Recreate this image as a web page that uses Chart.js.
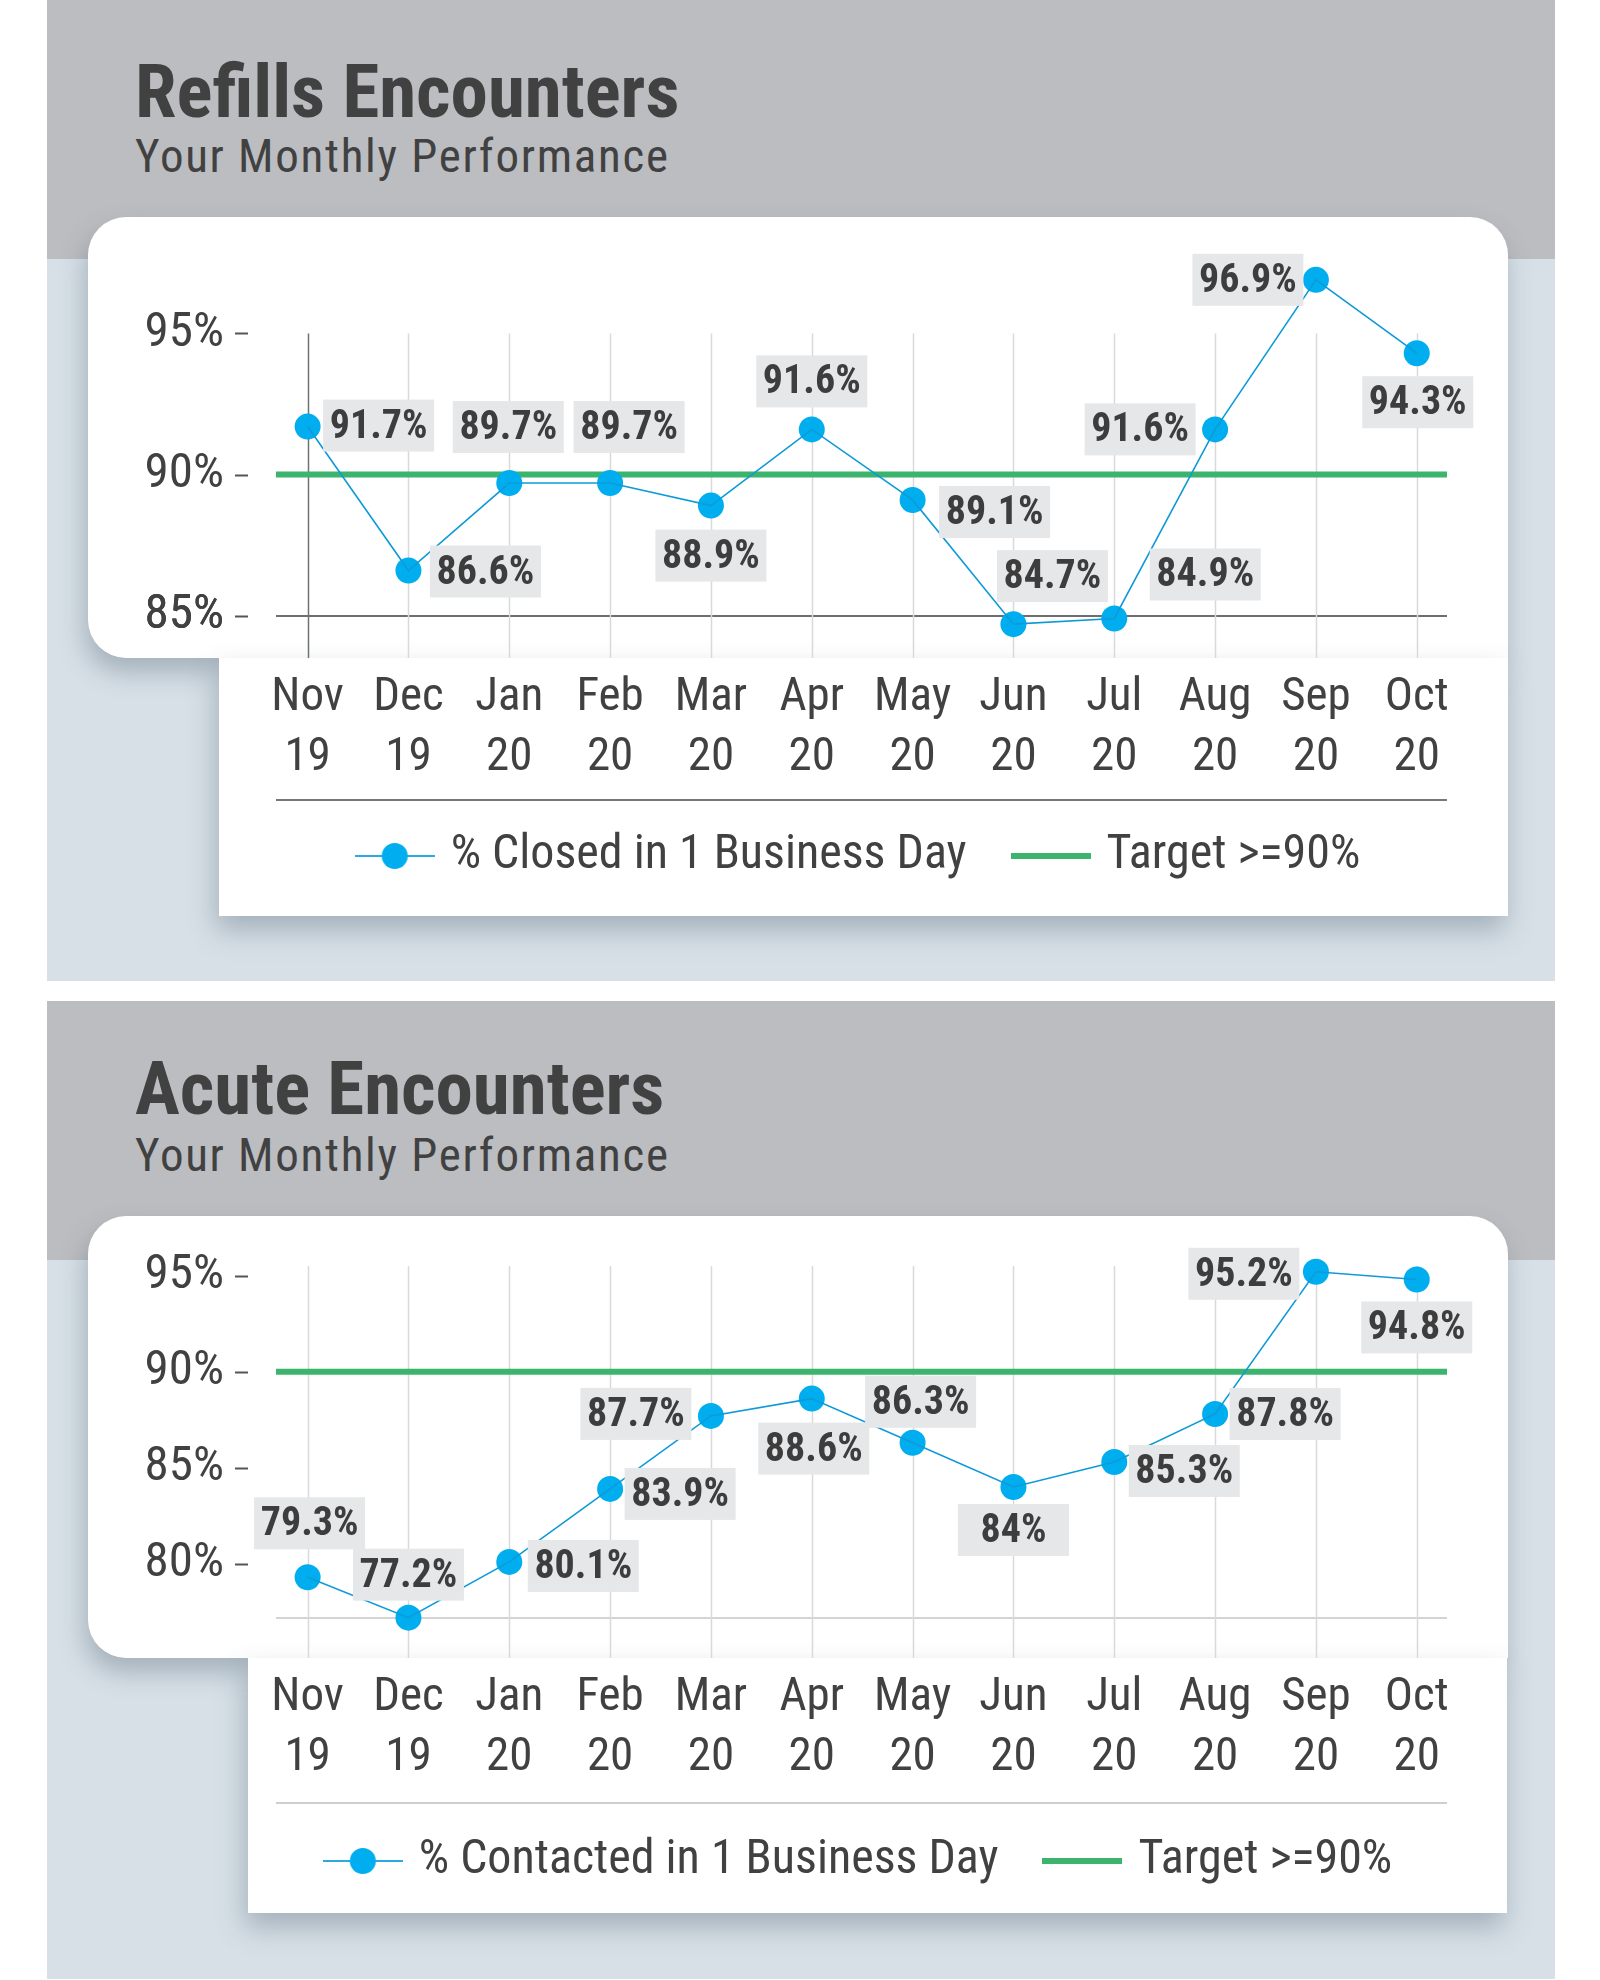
<!DOCTYPE html>
<html>
<head>
<meta charset="utf-8">
<title>Encounters</title>
<script src="https://cdn.jsdelivr.net/npm/chart.js@4.4.1/dist/chart.umd.min.js"></script>
<style>
  body {
    margin: 0;
    width: 1600px;
    height: 1980px;
    position: relative;
    overflow: hidden;
    background: #fff;
    color: #414142;
    font-family: "Roboto Condensed", "Archivo Narrow", sans-serif;
  }
  .panel { position: absolute; left: 47px; width: 1508px; background: #d7e0e7; }
  .panel .head { position: absolute; left: 0; top: 0; width: 100%; height: 259px; background: #bcbdc0; }
  .title { position: absolute; left: 88px; font-weight: bold; font-size: 75px; line-height: 76px; white-space: nowrap; }
  .sub { position: absolute; left: 88px; font-size: 47px; line-height: 47px; letter-spacing: 1.7px; white-space: nowrap; }
  .card { position: absolute; background: #fff; box-shadow: -3px 14px 26px rgba(70, 88, 105, 0.35); }
  canvas { position: absolute; left: 0; }
</style>
</head>
<body>

<div class="panel" style="top:0;height:981px">
  <div class="head"></div>
  <div class="title" style="top:53px">Refills Encounters</div>
  <div class="sub" style="top:132px">Your Monthly Performance</div>
</div>
<div class="card" style="left:88px;top:217px;width:1420px;height:441px;border-radius:38px 38px 0 38px"></div>
<div class="card" style="left:219px;top:658px;width:1289px;height:258px"></div>
<canvas id="refills" width="1600" height="674" style="top:217px"></canvas>

<div class="panel" style="top:1001px;height:978px">
  <div class="head"></div>
  <div class="title" style="top:49px">Acute Encounters</div>
  <div class="sub" style="top:130px">Your Monthly Performance</div>
</div>
<div class="card" style="left:88px;top:1216px;width:1420px;height:442px;border-radius:38px 38px 0 38px"></div>
<div class="card" style="left:248px;top:1658px;width:1259px;height:255px"></div>
<canvas id="acute" width="1600" height="679" style="top:1216px"></canvas>

<script>
const months = ['Nov', 'Dec', 'Jan', 'Feb', 'Mar', 'Apr', 'May', 'Jun', 'Jul', 'Aug', 'Sep', 'Oct'];
const years = ['19', '19', '20', '20', '20', '20', '20', '20', '20', '20', '20', '20'];

const refillsClosed = [91.7, 86.6, 89.7, 89.7, 88.9, 91.6, 89.1, 84.7, 84.9, 91.6, 96.9, 94.3];
const acuteContacted = [79.3, 77.2, 80.1, 83.9, 87.7, 88.6, 86.3, 84, 85.3, 87.8, 95.2, 94.8];
const target = 90;

const refillsTicks = [85, 90, 95];
const acuteTicks = [80, 85, 90, 95];

// where each value box sits relative to its point (px), tuned by eye
const refillsLabelPos = [[71, -1], [77, 1], [-1, -56], [19, -56], [0, 50], [0, -48], [82, 12], [39, -48], [91, -44], [-75, 0], [-68, 0], [1, 49]];
const acuteLabelPos = [[2, -54], [0, -43], [74, 4], [70, 5], [-75, -2], [2, 50], [8, -41], [0, 43], [70, 9], [70, 0], [-72, 2], [0, 48]];

const FONT = '"Roboto Condensed", "Archivo Narrow", sans-serif';
const TEXT = '#414142';
const BLUE = '#00aeef';
const LINE_BLUE = '#0e9ad8';
const GREEN = '#3cb46e';
const X_MIN = -0.3135;
const X_MAX = 11.3;

// little legend icons
function blueIcon() {
  const c = document.createElement('canvas');
  c.width = 80; c.height = 30;
  const g = c.getContext('2d');
  g.strokeStyle = '#29abe2'; g.lineWidth = 2;
  g.beginPath(); g.moveTo(0, 15); g.lineTo(80, 15); g.stroke();
  g.fillStyle = BLUE;
  g.beginPath(); g.arc(40, 15, 13, 0, Math.PI * 2); g.fill();
  return c;
}
function greenIcon() {
  const c = document.createElement('canvas');
  c.width = 80; c.height = 6;
  const g = c.getContext('2d');
  g.fillStyle = GREEN;
  g.fillRect(0, 0, 80, 6);
  return c;
}

const extras = {
  id: 'extras',
  beforeDatasetsDraw(chart, args, opts) {
    // month grid lines, starting at the top tick instead of the top of the area
    const ctx = chart.ctx;
    const area = chart.chartArea;
    const x = chart.scales.x;
    const top = chart.scales.y.getPixelForValue(opts.gridTop);
    ctx.save();
    ctx.lineWidth = 1.5;
    x.ticks.forEach((t, i) => {
      const px = Math.round(x.getPixelForValue(t.value)) + 0.5;
      ctx.strokeStyle = opts.darkFirst && i === 0 ? '#707173' : '#d9d9d9';
      ctx.beginPath(); ctx.moveTo(px, top); ctx.lineTo(px, area.bottom); ctx.stroke();
    });
    ctx.restore();
  },
  afterDatasetsDraw(chart, args, opts) {
    // grey value boxes next to the points
    const ctx = chart.ctx;
    const meta = chart.getDatasetMeta(1);
    const values = chart.data.datasets[1].data;
    ctx.save();
    ctx.font = 'bold 40px ' + FONT;
    ctx.textAlign = 'center';
    ctx.textBaseline = 'middle';
    meta.data.forEach((pt, i) => {
      const cx = pt.x + opts.labelPos[i][0];
      const cy = pt.y + opts.labelPos[i][1];
      ctx.fillStyle = '#e6e7e8';
      ctx.fillRect(cx - 55.5, cy - 26, 111, 52);
      ctx.fillStyle = '#3d3d3e';
      ctx.fillText(values[i].y + '%', cx, cy + 2);
    });
    ctx.restore();
  },
  afterDraw(chart, args, opts) {
    const ctx = chart.ctx;
    const area = chart.chartArea;
    const y = chart.scales.y;
    ctx.save();
    // dashes beside the y labels
    ctx.strokeStyle = '#555';
    ctx.lineWidth = 2;
    opts.yLabels.forEach(v => {
      const py = Math.round(y.getPixelForValue(v)) + 0.5;
      ctx.beginPath(); ctx.moveTo(area.left - 41, py); ctx.lineTo(area.left - 28, py); ctx.stroke();
    });
    // rule between month labels and legend
    ctx.strokeStyle = opts.ruleColor;
    const ry = area.bottom + opts.ruleOffset;
    ctx.beginPath(); ctx.moveTo(area.left, ry); ctx.lineTo(area.right, ry); ctx.stroke();
    ctx.restore();
  }
};

function makeChart(id, cfg) {
  const points = cfg.values.map((v, i) => ({ x: i, y: v }));
  return new Chart(document.getElementById(id), {
    type: 'line',
    data: {
      datasets: [
        {
          label: 'Target >=90%',
          data: [{ x: X_MIN, y: target }, { x: X_MAX, y: target }],
          borderColor: GREEN,
          borderWidth: 6,
          pointRadius: 0,
          order: 3
        },
        {
          label: cfg.seriesName,
          data: points,
          showLine: false,
          pointRadius: 13,
          pointBackgroundColor: BLUE,
          pointBorderWidth: 0,
          clip: false,
          order: 2
        },
        {
          label: 'line',
          data: points,
          borderColor: LINE_BLUE,
          borderWidth: 1.6,
          pointRadius: 0,
          clip: false,
          order: 1
        }
      ]
    },
    options: {
      responsive: false,
      animation: false,
      events: [],
      layout: { autoPadding: false, padding: { left: 136, right: 153, top: cfg.topPad, bottom: cfg.bottomPad } },
      plugins: {
        tooltip: { enabled: false },
        legend: {
          position: 'bottom',
          fullSize: false,
          labels: {
            usePointStyle: true,
            pointStyleWidth: 64,
            padding: 52,
            color: TEXT,
            font: { size: 48, family: FONT },
            generateLabels: () => [
              { text: cfg.seriesName, pointStyle: blueIcon(), fontColor: TEXT, lineWidth: 0, strokeStyle: 'rgba(0,0,0,0)', fillStyle: 'rgba(0,0,0,0)', datasetIndex: 1 },
              { text: 'Target >=90%', pointStyle: greenIcon(), fontColor: TEXT, lineWidth: 0, strokeStyle: 'rgba(0,0,0,0)', fillStyle: 'rgba(0,0,0,0)', datasetIndex: 0 }
            ]
          }
        },
        extras: {
          labelPos: cfg.labelPos,
          yLabels: cfg.yTicks,
          gridTop: cfg.gridTop,
          darkFirst: cfg.darkFirst,
          ruleColor: cfg.ruleColor,
          ruleOffset: cfg.ruleOffset
        }
      },
      scales: {
        x: {
          type: 'linear',
          min: X_MIN,
          max: X_MAX,
          afterBuildTicks: s => { s.ticks = months.map((m, i) => ({ value: i })); },
          afterFit: s => { s.height = cfg.xHeight; },
          border: { display: false },
          grid: { display: false, drawTicks: false },
          ticks: {
            autoSkip: false,
            maxRotation: 0,
            padding: 10,
            color: TEXT,
            font: { size: 47, family: FONT, lineHeight: 1.28 },
            callback: v => [months[v], years[v]]
          }
        },
        y: {
          min: cfg.yMin,
          max: cfg.yMax,
          afterBuildTicks: s => { s.ticks = [cfg.baseline].concat(cfg.yTicks).map(v => ({ value: v })); },
          // fixed width, and no extra room above the area for the top label
          afterFit: s => { s.width = 140; s.paddingTop = 0; s.paddingBottom = 0; },
          border: { display: false },
          grid: {
            drawTicks: false,
            lineWidth: 2,
            color: c => (c.tick.value === cfg.baseline ? cfg.baseColor : 'rgba(0,0,0,0)')
          },
          ticks: {
            padding: 52,
            color: TEXT,
            font: { size: 49, family: FONT },
            callback: v => (cfg.yTicks.includes(v) ? v + '%' : '')
          }
        }
      }
    },
    plugins: [extras]
  });
}

makeChart('refills', {
  values: refillsClosed,
  seriesName: '% Closed in 1 Business Day',
  yTicks: refillsTicks,
  yMin: 83.5,
  yMax: 97,
  gridTop: 95,
  baseline: 85,
  baseColor: '#6d6e70',
  darkFirst: true,
  topPad: 60,
  bottomPad: 1,
  xHeight: 122,
  ruleColor: '#76777a',
  ruleOffset: 142,
  labelPos: refillsLabelPos
});

makeChart('acute', {
  values: acuteContacted,
  seriesName: '% Contacted in 1 Business Day',
  yTicks: acuteTicks,
  yMin: 75.1,
  yMax: 95.5,
  gridTop: 95.5,
  baseline: 77.2,
  baseColor: '#d4d4d4',
  darkFirst: false,
  topPad: 50,
  bottomPad: 0,
  xHeight: 127,
  ruleColor: '#cfcfcf',
  ruleOffset: 145,
  labelPos: acuteLabelPos
});
</script>
</body>
</html>
